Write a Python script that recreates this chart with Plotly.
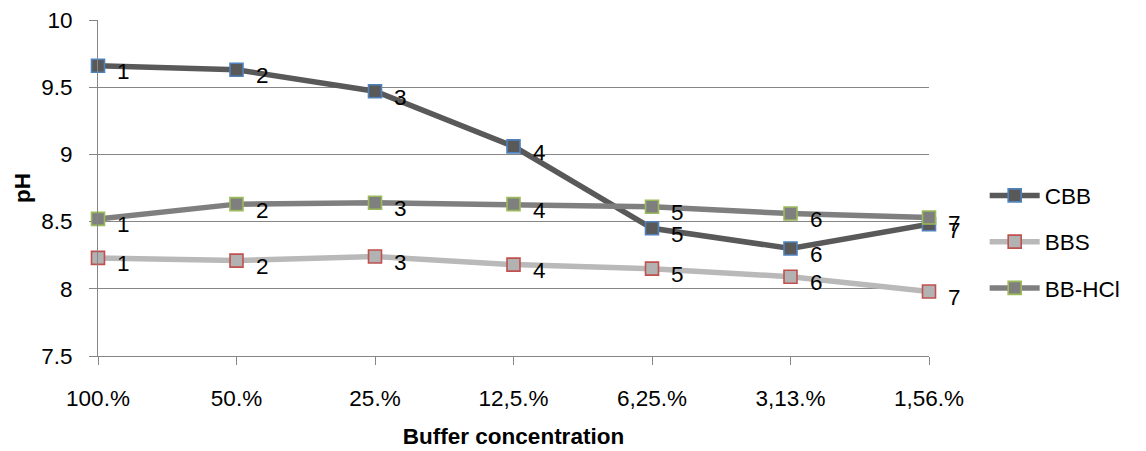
import plotly.graph_objects as go

# Buffer dilution series (x axis categories)
concentrations = ["100.%", "50.%", "25.%", "12,5.%", "6,25.%", "3,13.%", "1,56.%"]

# pH measured at each dilution
ph_cbb = [9.66, 9.63, 9.47, 9.06, 8.45, 8.30, 8.48]
ph_bbs = [8.23, 8.21, 8.24, 8.18, 8.15, 8.09, 7.98]
ph_bbhcl = [8.52, 8.63, 8.64, 8.63, 8.61, 8.56, 8.53]

# Point labels (sample number)
point_labels = ["1", "2", "3", "4", "5", "6", "7"]

series = [
    ("CBB", ph_cbb, "#595959", "#595959", "#4F81BD"),
    ("BBS", ph_bbs, "#B9B9B9", "#B2B2B2", "#C0504D"),
    ("BB-HCl", ph_bbhcl, "#7F7F7F", "#7F7F7F", "#9BBB59"),
]

FONT = "Liberation Sans"
FS = 22.5
fig = go.Figure()

for i, (name, vals, line_col, fill_col, edge_col) in enumerate(series):
    fig.add_trace(go.Scatter(
        x=concentrations, y=vals, name=name, mode="lines+markers",
        line=dict(color=line_col, width=5.5),
        marker=dict(symbol="square", size=13, color=fill_col,
                    line=dict(color=edge_col, width=1.6)),
        cliponaxis=False, legendgroup=name,
    ))
    for xc, yv, lab in zip(concentrations, vals, point_labels):
        fig.add_annotation(
            x=xc, y=yv, text=lab, showarrow=False,
            xanchor="left", yanchor="middle", xshift=17, yshift=-6,
            font=dict(family=FONT, size=FS, color="#000000"),
        )

# Y axis title, placed in the left margin
fig.add_annotation(
    xref="paper", yref="paper", x=0, y=0.5, xshift=-76,
    text="<b>pH</b>", textangle=-90, showarrow=False,
    xanchor="center", yanchor="middle",
    font=dict(family=FONT, size=FS, color="#000000"),
)

fig.update_layout(
    width=1146, height=451,
    margin=dict(l=98, r=217, t=20, b=95, autoexpand=False),
    paper_bgcolor="white", plot_bgcolor="white",
    font=dict(family=FONT, size=FS, color="#000000"),
    showlegend=True,
    legend=dict(
        x=1.067, y=0.34, xanchor="left", yanchor="middle",
        font=dict(family=FONT, size=FS), tracegroupgap=14,
        itemwidth=50,
        bgcolor="rgba(0,0,0,0)",
    ),
    xaxis=dict(
        type="category", range=[0, 6], automargin=False,
        showgrid=False, showline=True, linecolor="#868686", linewidth=1,
        ticks="outside", ticklen=8, tickcolor="#868686",
        tickfont=dict(family=FONT, size=FS),
        ticklabelstandoff=14,
        title=dict(text="<b>Buffer concentration</b>", standoff=18,
                   font=dict(family=FONT, size=FS)),
    ),
    yaxis=dict(
        range=[7.5, 10], dtick=0.5, tick0=7.5, automargin=False,
        showgrid=True, gridcolor="#868686", gridwidth=1,
        showline=True, linecolor="#868686", linewidth=1,
        ticks="outside", ticklen=8, tickcolor="#868686",
        tickfont=dict(family=FONT, size=FS),
        ticklabelstandoff=12, zeroline=False,
    ),
)

fig.write_html("out.html")
